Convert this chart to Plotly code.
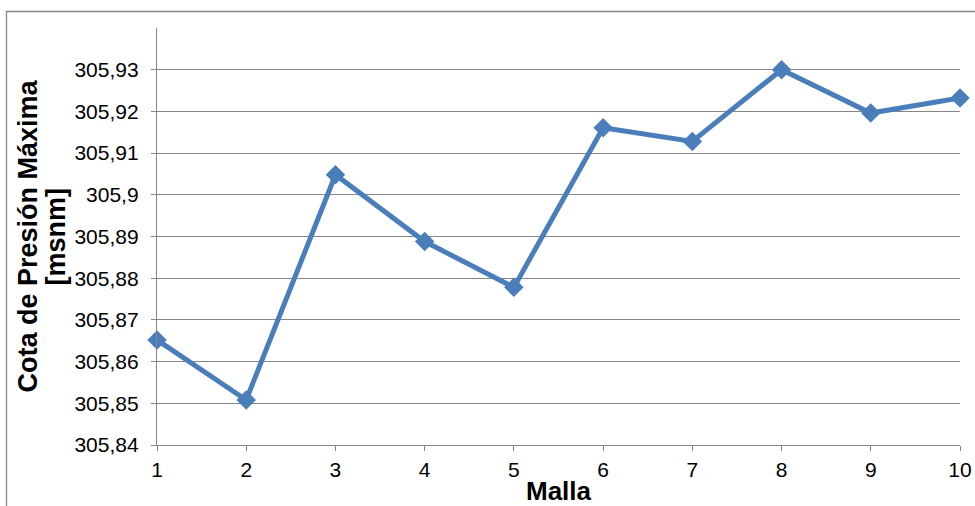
import plotly.graph_objects as go

# Mesh number vs. maximum pressure head
malla = [1, 2, 3, 4, 5, 6, 7, 8, 9, 10]
cota_presion = [305.8652, 305.8508, 305.9048, 305.8888, 305.8778,
                305.9161, 305.9128, 305.9300, 305.9196, 305.9232]

y_ticks = [305.84, 305.85, 305.86, 305.87, 305.88, 305.89,
           305.90, 305.91, 305.92, 305.93]
y_tick_text = ["305,84", "305,85", "305,86", "305,87", "305,88",
               "305,89", "305,9", "305,91", "305,92", "305,93"]

y_title_lines = ["Cota de Presión Máxima", "[msnm]"]

W, H = 975, 506
ML, MR, MT, MB = 157, 15, 28, 61
plot_w = W - ML - MR
plot_h = H - MT - MB

AXIS_GREY = "#868686"
SERIES_BLUE = "#4A7EBB"
FONT = "Liberation Sans, Arial, sans-serif"


def px_to_paper_x(px):
    return (px - ML) / plot_w


fig = go.Figure()
fig.add_trace(go.Scatter(
    x=malla,
    y=cota_presion,
    mode="lines+markers",
    line=dict(color=SERIES_BLUE, width=5),
    marker=dict(symbol="diamond", size=15, color=SERIES_BLUE),
    cliponaxis=False,
    showlegend=False,
))

# Outer chart frame (only left and top edges fall inside the page)
fig.add_shape(
    type="rect", xref="paper", yref="paper",
    x0=px_to_paper_x(6.5), x1=1.05,
    y0=-0.3, y1=1 + (MT - 11.5) / plot_h,
    line=dict(color=AXIS_GREY, width=1.3),
    fillcolor="rgba(0,0,0,0)",
    layer="below",
)

# Two-line vertical y-axis title, set line by line for tighter leading
for line_text, center_px in zip(y_title_lines, [27, 55]):
    fig.add_annotation(
        text=f"<b>{line_text}</b>",
        xref="paper", yref="paper",
        x=px_to_paper_x(center_px), y=0.5,
        xanchor="center", yanchor="middle",
        textangle=-90,
        showarrow=False,
        font=dict(size=27, family=FONT, color="#000000"),
    )

fig.update_layout(
    width=W, height=H,
    margin=dict(l=ML, r=MR, t=MT, b=MB, autoexpand=False),
    paper_bgcolor="white",
    plot_bgcolor="white",
    font=dict(family=FONT, color="#000000", size=21),
    xaxis=dict(
        range=[1, 10],
        tickvals=malla,
        ticktext=[str(v) for v in malla],
        automargin=False,
        showgrid=False,
        zeroline=False,
        showline=True,
        linecolor=AXIS_GREY,
        linewidth=1.3,
        ticks="outside",
        ticklen=5,
        tickwidth=1.3,
        tickcolor=AXIS_GREY,
        ticklabelstandoff=1,
        tickfont=dict(size=21, family=FONT),
        title=dict(text="<b>Malla</b>", font=dict(size=26, family=FONT), standoff=2),
    ),
    yaxis=dict(
        range=[305.84, 305.94],
        tickvals=y_ticks,
        ticktext=y_tick_text,
        automargin=False,
        showgrid=True,
        gridcolor=AXIS_GREY,
        gridwidth=1.3,
        zeroline=False,
        showline=True,
        linecolor=AXIS_GREY,
        linewidth=1.3,
        ticks="outside",
        ticklen=5,
        tickwidth=1.3,
        tickcolor=AXIS_GREY,
        ticklabelstandoff=8,
        tickfont=dict(size=21, family=FONT),
    ),
)

fig.write_html("out.html")
